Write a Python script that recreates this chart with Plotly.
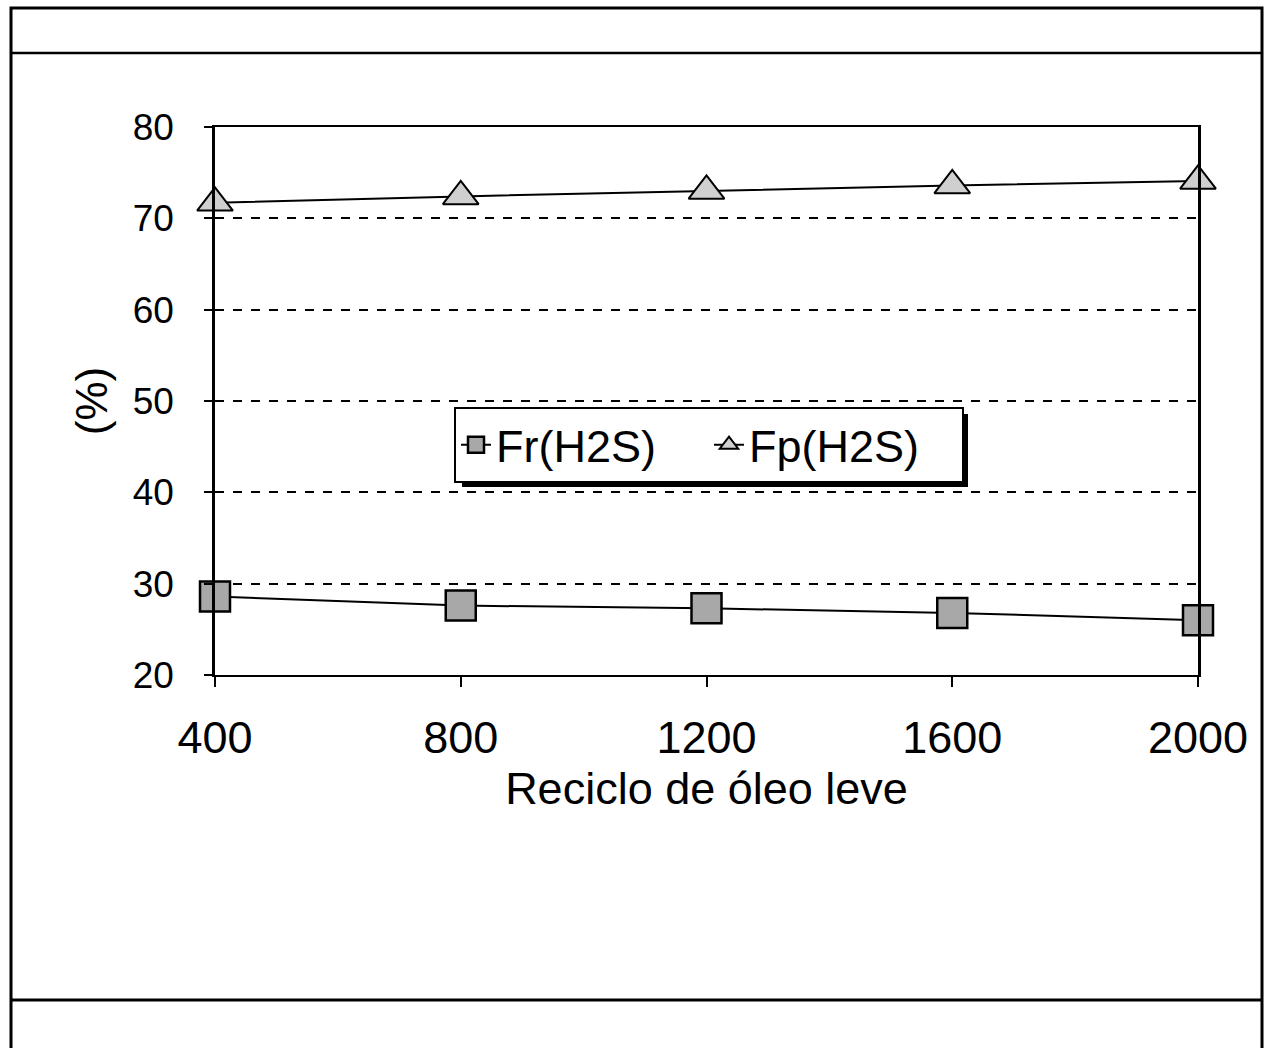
import plotly.graph_objects as go

reciclo = [400, 800, 1200, 1600, 2000]
fr_h2s = [28.6, 27.6, 27.3, 26.8, 26.0]
fp_h2s = [71.7, 72.4, 73.0, 73.6, 74.1]
x_ticks = [400, 800, 1200, 1600, 2000]
y_ticks = [20, 30, 40, 50, 60, 70, 80]

W, H = 1273, 1048
L, R, T, B = 215, 1198, 127, 675

def px(x):
    return (x - L) / (R - L)

def py(y):
    return (B - y) / (B - T)

FONT = "Liberation Sans, Arial, sans-serif"

fig = go.Figure()
fig.add_trace(go.Scatter(
    x=reciclo, y=fr_h2s, name="Fr(H2S)", mode="lines+markers",
    line=dict(color="black", width=2),
    marker=dict(symbol="square", size=30, color="#a8a8a8",
                line=dict(color="black", width=2.5)),
    cliponaxis=False,
))
fig.add_trace(go.Scatter(
    x=reciclo, y=fp_h2s, name="Fp(H2S)", mode="lines+markers",
    line=dict(color="black", width=2),
    marker=dict(symbol="triangle-up", size=31, color="#cfcfcf",
                line=dict(color="black", width=2)),
    cliponaxis=False,
))

shapes = [
    dict(type="rect", xref="paper", yref="paper",
         x0=px(11), x1=px(1262), y0=py(1060), y1=py(8),
         line=dict(color="black", width=3), layer="below"),
    dict(type="line", xref="paper", yref="paper",
         x0=px(11), x1=px(1262), y0=py(53), y1=py(53),
         line=dict(color="black", width=2.5)),
    dict(type="line", xref="paper", yref="paper",
         x0=px(11), x1=px(1262), y0=py(1000), y1=py(1000),
         line=dict(color="black", width=3)),
    # legend shadow
    dict(type="rect", xref="paper", yref="paper",
         x0=px(462), x1=px(968), y0=py(487), y1=py(414),
         fillcolor="black", line=dict(width=0), layer="below"),
    dict(type="rect", xref="paper", yref="paper",
         x0=px(455), x1=px(963), y0=py(481), y1=py(409),
         fillcolor="white", line=dict(width=0), layer="below"),
]

fig.update_layout(
    width=W, height=H,
    margin=dict(l=L, r=W - R, t=T, b=H - B),
    paper_bgcolor="white", plot_bgcolor="white",
    font=dict(family=FONT, color="black", size=44),
    showlegend=True,
    legend=dict(
        x=px(709), y=py(445), xanchor="center", yanchor="middle",
        orientation="h", bgcolor="white", bordercolor="black", borderwidth=2,
        font=dict(size=45, family=FONT), itemwidth=30,
        entrywidth=208, entrywidthmode="pixels",
        tracegroupgap=0,
    ),
    shapes=shapes,
    xaxis=dict(
        range=[400, 2000], tickvals=x_ticks, ticktext=[str(v) for v in x_ticks],
        showgrid=False, zeroline=False, showline=True, linecolor="black",
        linewidth=2, mirror=True, ticks="outside", ticklen=10, tickwidth=2,
        tickcolor="black", tickfont=dict(size=45), ticklabelstandoff=12,
        title=dict(text="Reciclo de óleo leve", font=dict(size=45), standoff=6),
    ),
    yaxis=dict(
        range=[20, 80], tickvals=y_ticks, ticktext=[str(v) for v in y_ticks],
        showgrid=True, gridcolor="black", gridwidth=1.5, griddash="dash",
        zeroline=False, showline=True, linecolor="black", linewidth=2.5,
        mirror=True, ticks="outside", ticklen=8, tickwidth=2, tickcolor="black",
        tickfont=dict(size=37), ticklabelstandoff=23,
        title=dict(text="(%)", font=dict(size=44), standoff=12),
    ),
)

fig.write_html("out.html")
